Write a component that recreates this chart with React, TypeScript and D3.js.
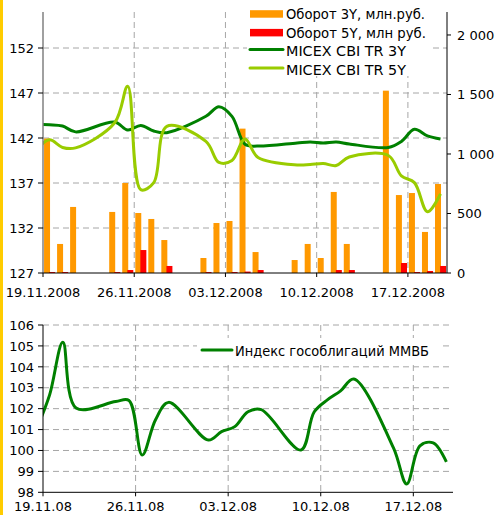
import { useEffect, useRef } from 'react';
import * as d3 from 'd3';

// trading days; the first one (18.11) only feeds the smoothed lines and is clipped
const lineDays = [
  '18.11.2008', '19.11.2008', '20.11.2008', '21.11.2008', '24.11.2008', '25.11.2008',
  '26.11.2008', '27.11.2008', '28.11.2008', '01.12.2008', '02.12.2008', '03.12.2008',
  '04.12.2008', '05.12.2008', '08.12.2008', '09.12.2008', '10.12.2008', '11.12.2008',
  '12.12.2008', '15.12.2008', '16.12.2008', '17.12.2008', '18.12.2008', '19.12.2008',
];
const barDays = lineDays.slice(1);

const turnover3Y = [
  1130, 244, 555, 513, 756, 504, 454, 277, 126, 420, 437, 1213,
  176, 109, 244, 126, 681, 244, 1532, 655, 672, 345, 748,
];
const turnover5Y = [
  8, 8, 0, 8, 25, 193, 0, 59, 8, 0, 8, 12,
  25, 0, 0, 0, 25, 25, 0, 84, 8, 17, 59,
];
const cbi3Y = [
  143.5, 143.46, 143.33, 142.68, 143.77, 142.88, 143.4, 142.77, 142.59, 144.41, 145.47, 144.4,
  141.3, 141.1, 141.45, 141.56, 141.45, 141.56, 141.34, 140.95, 141.62, 142.96, 142.23, 141.88,
];
const cbi5Y = [
  140.7, 141.8, 140.95, 140.9, 143.69, 147.76, 136.26, 137.04, 143.29, 141.62, 139.28, 139.5,
  141.9, 139.83, 139.0, 139.05, 139.16, 138.94, 139.89, 140.06, 137.8, 137.04, 133.8, 135.8,
];
const mmvbIndex = [
  101.0, 102.66, 105.17, 102.03, 102.34, 102.39, 99.78, 101.46, 102.3, 100.5, 100.9, 101.14,
  101.85, 101.95, 100.02, 101.84, 102.42, 102.85, 103.42, 100.12, 98.4, 100.22, 100.36, 99.45,
];

const weekTicks = ['19.11.2008', '26.11.2008', '03.12.2008', '10.12.2008', '17.12.2008'];
const leftTicksTop = [127, 132, 137, 142, 147, 152];
const rightTicksTop = [0, 500, 1000, 1500, 2000];
const leftTicksBottom = [98, 99, 100, 101, 102, 103, 104, 105, 106];

const legendTop = [
  { name: 'Оборот 3Y, млн.руб.', color: '#FF9900', kind: 'bar', len: 139 },
  { name: 'Оборот 5Y, млн руб.', color: '#FF0000', kind: 'bar', len: 140 },
  { name: 'MICEX CBI TR 3Y', color: '#008000', kind: 'line', len: 120 },
  { name: 'MICEX CBI TR 5Y', color: '#99CC00', kind: 'line', len: 120 },
];
const legendBottom = 'Индекс гособлигаций ММВБ';

export default function App() {
  const ref = useRef<SVGSVGElement | null>(null);

  useEffect(() => {
    if (!ref.current) return;
    const svg = d3.select(ref.current);
    svg.selectAll('*').remove();

    const width = 496;
    const height = 515;
    const font = 'DejaVu Sans, Verdana, sans-serif';
    const gridColor = '#A6A6A6';
    const parse = d3.utcParse('%d.%m.%Y');
    const dayStart = parse('19.11.2008')!;
    const dayEnd = parse('20.12.2008')!;
    const lineDates = lineDays.map((d) => parse(d)!);
    const barDates = barDays.map((d) => parse(d)!);
    const weekDates = weekTicks.map((d) => parse(d)!);

    svg.attr('width', width).attr('height', height);
    svg.append('rect').attr('width', width).attr('height', height).attr('fill', '#fff');
    svg.append('rect').attr('x', 0).attr('y', 0).attr('width', 3).attr('height', height).attr('fill', '#FFCC00');

    const defs = svg.append('defs');

    // ---------- top chart ----------
    const top = { left: 43, right: 447, top: 12, bottom: 273 };
    const x = d3.scaleUtc().domain([dayStart, dayEnd]).range([top.left, top.right]);
    const dayW = x(d3.utcDay.offset(dayStart, 1)) - x(dayStart);
    const yL = d3.scaleLinear().domain([127, 156]).range([top.bottom, top.top]);
    const yR = d3.scaleLinear().domain([0, 2193]).range([top.bottom, top.top]);

    defs.append('clipPath').attr('id', 'clip-top')
      .append('rect')
      .attr('x', top.left).attr('y', top.top)
      .attr('width', top.right - top.left).attr('height', top.bottom - top.top);

    const gt = svg.append('g');

    // grid
    leftTicksTop.slice(1).forEach((v) => {
      gt.append('line')
        .attr('x1', top.left).attr('x2', top.right)
        .attr('y1', yL(v)).attr('y2', yL(v))
        .attr('stroke', gridColor).attr('stroke-dasharray', '6 4');
    });
    weekDates.slice(1).forEach((d) => {
      gt.append('line')
        .attr('x1', x(d)).attr('x2', x(d))
        .attr('y1', top.top).attr('y2', top.bottom)
        .attr('stroke', gridColor).attr('stroke-dasharray', '6 4');
    });

    // bars
    gt.selectAll('rect.b3')
      .data(barDates)
      .join('rect')
      .attr('x', (d) => x(d) + dayW * 0.08)
      .attr('width', dayW * 0.46)
      .attr('y', (_, i) => yR(turnover3Y[i]))
      .attr('height', (_, i) => top.bottom - yR(turnover3Y[i]))
      .attr('fill', '#FF9900');
    gt.selectAll('rect.b5')
      .data(barDates)
      .join('rect')
      .attr('x', (d) => x(d) + dayW * 0.47)
      .attr('width', dayW * 0.46)
      .attr('y', (_, i) => yR(turnover5Y[i]))
      .attr('height', (_, i) => top.bottom - yR(turnover5Y[i]))
      .attr('fill', '#FF0000');

    const lineTop = (series: number[]) =>
      d3.line<Date>()
        .x((d) => x(d) + dayW / 2)
        .y((_, i) => yL(series[i]))
        .curve(d3.curveCatmullRom.alpha(0.5))(lineDates);

    [
      { series: cbi3Y, color: '#008000' },
      { series: cbi5Y, color: '#99CC00' },
    ].forEach(({ series, color }) => {
      gt.append('path')
        .attr('d', lineTop(series)!)
        .attr('clip-path', 'url(#clip-top)')
        .attr('fill', 'none')
        .attr('stroke', color)
        .attr('stroke-width', 3)
        .attr('stroke-linejoin', 'round');
    });

    // axes
    gt.append('line')
      .attr('x1', top.left).attr('x2', top.left).attr('y1', top.top).attr('y2', top.bottom)
      .attr('stroke', '#808080').attr('stroke-width', 1.5);
    gt.append('line')
      .attr('x1', top.right).attr('x2', top.right).attr('y1', top.top).attr('y2', top.bottom)
      .attr('stroke', '#000');
    gt.append('line')
      .attr('x1', top.left).attr('x2', top.right).attr('y1', top.bottom).attr('y2', top.bottom)
      .attr('stroke', '#000');

    leftTicksTop.forEach((v) => {
      gt.append('line')
        .attr('x1', top.left - 5).attr('x2', top.left).attr('y1', yL(v)).attr('y2', yL(v))
        .attr('stroke', '#000');
      gt.append('text')
        .attr('x', top.left - 9).attr('y', yL(v)).attr('dy', '0.36em')
        .attr('text-anchor', 'end')
        .attr('font-family', font).attr('font-size', '13px')
        .text(v);
    });
    const fmtR = (v: number) => d3.format(',')(v).replace(/,/g, ' ');
    rightTicksTop.forEach((v) => {
      gt.append('line')
        .attr('x1', top.right).attr('x2', top.right + 4).attr('y1', yR(v)).attr('y2', yR(v))
        .attr('stroke', '#000');
      gt.append('text')
        .attr('x', top.right + 10).attr('y', yR(v)).attr('dy', '0.36em')
        .attr('font-family', font).attr('font-size', '13px')
        .text(fmtR(v));
    });
    weekDates.forEach((d, i) => {
      gt.append('line')
        .attr('x1', x(d)).attr('x2', x(d)).attr('y1', top.bottom).attr('y2', top.bottom + 4)
        .attr('stroke', '#000');
      gt.append('text')
        .attr('x', x(d)).attr('y', 297)
        .attr('text-anchor', 'middle')
        .attr('font-family', font).attr('font-size', '13px')
        .text(weekTicks[i]);
    });

    // legend
    const lg = gt.append('g');
    lg.append('rect').attr('x', 247).attr('y', 2).attr('width', 186).attr('height', 74).attr('fill', '#fff');
    legendTop.forEach((item, i) => {
      const cy = 14 + i * 18.7;
      if (item.kind === 'bar') {
        lg.append('rect').attr('x', 250).attr('y', cy - 3.8).attr('width', 33).attr('height', 7.5).attr('fill', item.color);
      } else {
        lg.append('line').attr('x1', 250).attr('x2', 283).attr('y1', cy - 2).attr('y2', cy - 2)
          .attr('stroke', item.color).attr('stroke-width', 3).attr('stroke-linecap', 'round');
      }
      lg.append('text')
        .attr('x', 286).attr('y', cy + 5)
        .attr('font-family', font).attr('font-size', '13.5px')
        .attr('textLength', item.len).attr('lengthAdjust', 'spacingAndGlyphs')
        .text(item.name);
    });

    // ---------- bottom chart ----------
    const bot = { left: 43, right: 453, top: 325, bottom: 492.3 };
    const x2 = d3.scaleUtc().domain([dayStart, dayEnd]).range([bot.left, bot.right]);
    const dayW2 = x2(d3.utcDay.offset(dayStart, 1)) - x2(dayStart);
    const y2 = d3.scaleLinear().domain([98, 106]).range([bot.bottom, bot.top]);

    defs.append('clipPath').attr('id', 'clip-bot')
      .append('rect')
      .attr('x', bot.left).attr('y', bot.top - 5)
      .attr('width', bot.right - bot.left).attr('height', bot.bottom - bot.top + 5);

    const gb = svg.append('g');
    leftTicksBottom.slice(1).forEach((v) => {
      gb.append('line')
        .attr('x1', bot.left).attr('x2', bot.right)
        .attr('y1', y2(v)).attr('y2', y2(v))
        .attr('stroke', gridColor).attr('stroke-dasharray', '6 4');
    });
    weekDates.slice(1).forEach((d) => {
      gb.append('line')
        .attr('x1', x2(d)).attr('x2', x2(d))
        .attr('y1', bot.top).attr('y2', bot.bottom)
        .attr('stroke', gridColor).attr('stroke-dasharray', '6 4');
    });

    // legend box sits over the grid
    gb.append('rect').attr('x', 197).attr('y', 338).attr('width', 243).attr('height', 23).attr('fill', '#fff');
    gb.append('line').attr('x1', 202).attr('x2', 232).attr('y1', 350).attr('y2', 350)
      .attr('stroke', '#008000').attr('stroke-width', 3).attr('stroke-linecap', 'round');
    gb.append('text')
      .attr('x', 235).attr('y', 356)
      .attr('font-family', font).attr('font-size', '13.5px')
      .attr('textLength', 194).attr('lengthAdjust', 'spacingAndGlyphs')
      .text(legendBottom);

    const lineBot = d3.line<Date>()
      .x((d) => x2(d) + dayW2 / 2)
      .y((_, i) => y2(mmvbIndex[i]))
      .curve(d3.curveCatmullRom.alpha(0.5));
    gb.append('path')
      .attr('d', lineBot(lineDates)!)
      .attr('clip-path', 'url(#clip-bot)')
      .attr('fill', 'none')
      .attr('stroke', '#008000')
      .attr('stroke-width', 3)
      .attr('stroke-linejoin', 'round');

    gb.append('line')
      .attr('x1', bot.left).attr('x2', bot.left).attr('y1', bot.top).attr('y2', bot.bottom)
      .attr('stroke', '#000');
    gb.append('line')
      .attr('x1', bot.left).attr('x2', bot.right).attr('y1', bot.bottom).attr('y2', bot.bottom)
      .attr('stroke', '#000');

    const fmtB = d3.utcFormat('%d.%m.%y');
    leftTicksBottom.forEach((v) => {
      gb.append('line')
        .attr('x1', bot.left - 5).attr('x2', bot.left).attr('y1', y2(v)).attr('y2', y2(v))
        .attr('stroke', '#000');
      gb.append('text')
        .attr('x', bot.left - 9).attr('y', y2(v)).attr('dy', '0.36em')
        .attr('text-anchor', 'end')
        .attr('font-family', font).attr('font-size', '13px')
        .text(v);
    });
    weekDates.forEach((d) => {
      gb.append('line')
        .attr('x1', x2(d)).attr('x2', x2(d)).attr('y1', bot.bottom).attr('y2', bot.bottom + 4)
        .attr('stroke', '#000');
      gb.append('text')
        .attr('x', x2(d)).attr('y', 511)
        .attr('text-anchor', 'middle')
        .attr('font-family', font).attr('font-size', '13px')
        .text(fmtB(d));
    });
  }, []);

  return (
    <svg ref={ref} style={{ position: 'absolute', left: 0, top: 0, display: 'block' }}></svg>
  );
}
